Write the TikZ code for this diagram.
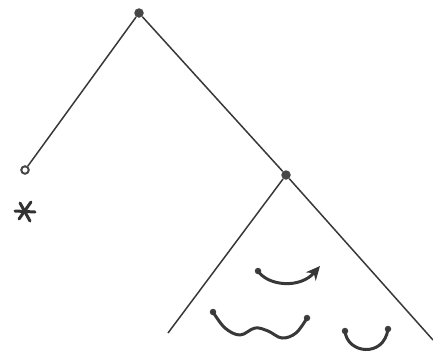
\documentclass[tikz,border=0pt]{standalone}
\usetikzlibrary{arrows.meta}
\begin{document}
\begin{tikzpicture}[x=1pt,y=-1pt,
  branch/.style={draw=black!78, line width=1.5pt},
  bigdot/.style={circle, fill=black!72, inner sep=0pt, minimum size=9.5pt},
  leafdot/.style={circle, draw=black!72, line width=2pt, inner sep=0pt, minimum size=7.5pt},
  enddot/.style={circle, fill=black!75, inner sep=0pt, minimum size=6.5pt},
  starline/.style={draw=black!80, line width=3pt, line cap=round},
  squiggle/.style={draw=black!78, line width=3pt, line cap=round, line join=round}]
\useasboundingbox (0,0) rectangle (433,360);
% tree nodes
\node[bigdot] (root) at (139,13) {};
\node[bigdot] (mid) at (286,175) {};
\node[leafdot] (leaf) at (25,170) {};
\coordinate (star) at (25,211);
\coordinate (rend) at (433,340);
\coordinate (lend) at (168,333);
% branches
\draw[branch] (root) -- (leaf);
\draw[branch] (root) -- (mid);
\draw[branch] (mid) -- (rend);
\draw[branch] (mid) -- (lend);
% asterisk
\draw[starline] ([shift={(-10,0)}]star) -- ([shift={(10,1)}]star);
\draw[starline] ([shift={(-5,-8)}]star) -- ([shift={(5,10)}]star);
\draw[starline] ([shift={(6,-9)}]star) -- ([shift={(-6,8)}]star);
% squiggles
\node[enddot] (a1) at (258,271) {};
\coordinate (a2) at (320,266);
\draw[squiggle, -{Stealth[length=14pt,width=13pt]}] (a1.center) .. controls (268,286) and (300,289) .. (a2);
\node[enddot] (b1) at (213,312) {};
\node[enddot] (b2) at (307,318) {};
\draw[squiggle] plot[smooth, tension=0.6] coordinates {(213,312) (225,328) (240,335) (255,328) (268,331) (282,338) (296,333) (307,318)};
\node[enddot] (c1) at (345,331) {};
\node[enddot] (c2) at (388,329) {};
\draw[squiggle] (c1.center) .. controls (347,354) and (384,358) .. (c2.center);
\end{tikzpicture}
\end{document}
